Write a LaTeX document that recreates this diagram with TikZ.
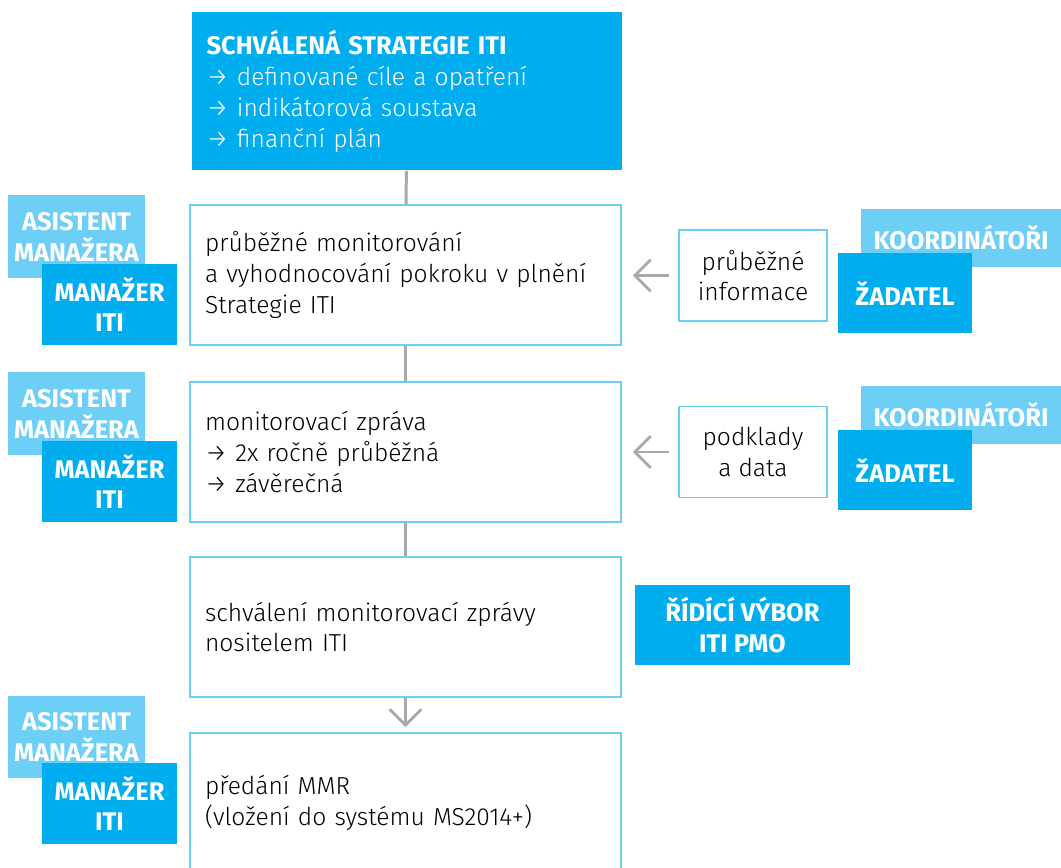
\documentclass[tikz,border=0pt]{standalone}
\usepackage{fontspec}
\setmainfont{Fira Sans Light}[BoldFont={Fira Sans Bold}]
\usepackage{tikz}
\usetikzlibrary{arrows.meta, positioning}
\definecolor{itiblue}{HTML}{00AEEF}
\definecolor{itilight}{HTML}{6DCFF6}
\definecolor{itigray}{HTML}{A7A9AC}
\tikzset{
    >={Straight Barb[length=9pt, width=18pt, line width=1.6pt]},
    bodyfont/.style={font=\fontsize{14}{17.6}\selectfont},
    rolefont/.style={font=\fontsize{14.5}{17.6}\selectfont\bfseries},
    stagebox/.style={bodyfont, draw=itilight, line width=1.1pt, minimum width=8.62cm,
        minimum height=2.8cm, text width=8.02cm, inner xsep=0.3cm, align=left},
    headbox/.style={stagebox, draw=none, fill=itiblue, text=white, minimum height=3.16cm},
    infobox/.style={bodyfont, draw=itilight, line width=1.1pt, align=center,
        minimum width=2.96cm, minimum height=1.82cm, inner sep=0pt},
    rolelight/.style={rolefont, fill=itilight, text=white, align=center, inner sep=0pt},
    roledark/.style={rolelight, fill=itiblue},
    link/.style={itigray, line width=1.7pt},
}

\begin{document}
\begin{tikzpicture}[x=0.02cm, y=-0.02cm]
        \useasboundingbox (0,0) rectangle (1061,868);
        % main column
        \node[headbox] (top) at (407,91) {{\bfseries\fontsize{14.5}{17.6}\selectfont SCHVÁLENÁ STRATEGIE ITI}\\
            → definované cíle a opatření\\ → indikátorová soustava\\ → finanční plán};
        \node[stagebox] (b1) at (405.5,275) {průběžné monitorování\\ a vyhodnocování pokroku v plnění\\ Strategie ITI};
        \node[stagebox] (b2) at (405.5,452) {monitorovací zpráva\\ → 2x ročně průběžná\\ → závěrečná};
        \node[stagebox] (b3) at (405.5,627) {schválení monitorovací zprávy\\ nositelem ITI};
        \node[stagebox] (b4) at (405.5,803) {předání MMR\\ (vložení do systému MS2014+)};
        \foreach \a/\b in {top/b1, b1/b2, b2/b3} \draw[link] (\a) -- (\b);
        \draw[link, ->, shorten >=0.1cm] (b3) -- (b4);
        % roles on the left
        \foreach \i/\ya/\ym in {1/236.5/304.5, 2/413.5/481.5, 4/737/803.5} {
            \node[rolelight, minimum width=2.74cm, minimum height=1.66cm] (asist\i) at (76.5,\ya) {ASISTENT\\ MANAŽERA};
            \node[roledark, minimum width=2.7cm, minimum height=1.62cm] (manag\i) at (109.5,\ym) {MANAŽER\\ ITI};
        }
        % inputs on the right
        \node[infobox] (info1) at (753,275.5) {průběžné\\ informace};
        \node[infobox] (info2) at (753,452) {podklady\\ a data};
        \foreach \i/\yk/\yz in {1/238/293, 2/415/470} {
            \node[rolelight, minimum width=4cm, minimum height=1.16cm] (koord\i) at (961,\yk) {KOORDINÁTOŘI};
            \node[roledark, minimum width=2.68cm, minimum height=1.6cm] (zad\i) at (905,\yz) {ŽADATEL};
        }
        \foreach \i in {1,2}
            \draw[link, ->, shorten <=0.18cm, shorten >=0.22cm] (info\i.west) -- (b\i.east |- info\i.west);
        \node[roledark, minimum width=4.3cm, minimum height=1.6cm] (rv) at (742.5,625) {ŘÍDÍCÍ VÝBOR\\ ITI PMO};
    \end{tikzpicture}
\end{document}
